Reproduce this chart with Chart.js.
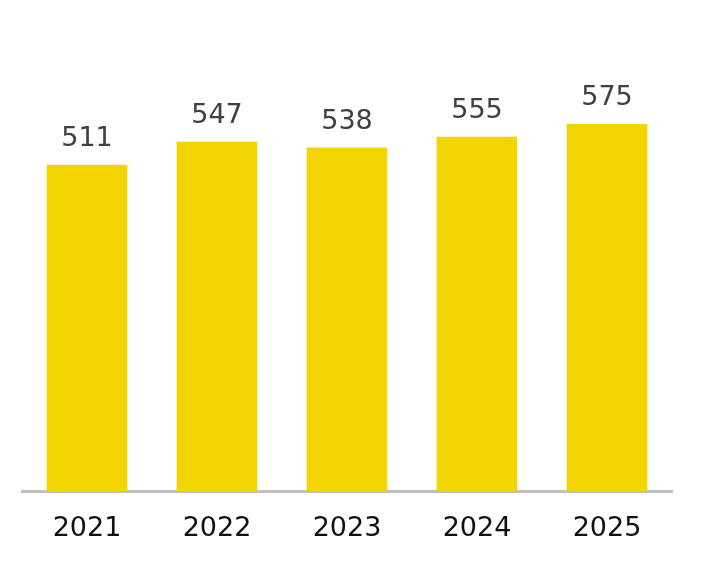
<!DOCTYPE html>
<html>
<head>
<meta charset="utf-8">
<script src="https://cdn.jsdelivr.net/npm/chart.js@4"></script>
<style>
  body { margin: 0; background: #fff; }
</style>
</head>
<body>
<canvas id="myChart" width="710" height="580"></canvas>
<script>
const years = ["2021", "2022", "2023", "2024", "2025"];
const values = [511, 547, 538, 555, 575];

// draws the numbers above the bars
const valueLabels = {
  id: "valueLabels",
  afterDatasetsDraw(chart) {
    const ctx = chart.ctx;
    const meta = chart.getDatasetMeta(0);
    ctx.save();
    ctx.font = "27px 'DejaVu Sans', Verdana, sans-serif";
    ctx.fillStyle = "#404040";
    ctx.textAlign = "center";
    ctx.textBaseline = "alphabetic";
    meta.data.forEach((bar, i) => {
      ctx.fillText(values[i], bar.x, bar.y - 19);
    });
    ctx.restore();
  },
};

const ctx = document.getElementById("myChart").getContext("2d");
const myChart = new Chart(ctx, {
  type: "bar",
  data: {
    labels: years,
    datasets: [
      {
        data: values,
        backgroundColor: "#F2D500",
        barPercentage: 0.62,
        categoryPercentage: 1,
      },
    ],
  },
  options: {
    responsive: false,
    animation: false,
    layout: { padding: { left: 22, right: 38, top: 44, bottom: 22 } },
    plugins: { legend: { display: false }, tooltip: { enabled: false } },
    scales: {
      x: {
        grid: { display: false },
        border: { color: "#BFBFBF", width: 3 },
        ticks: {
          padding: 13,
          color: "#111",
          font: { family: "'DejaVu Sans', Verdana, sans-serif", size: 27 },
        },
      },
      y: { display: false, min: 0, max: 700 },
    },
  },
  plugins: [valueLabels],
});
</script>
</body>
</html>
